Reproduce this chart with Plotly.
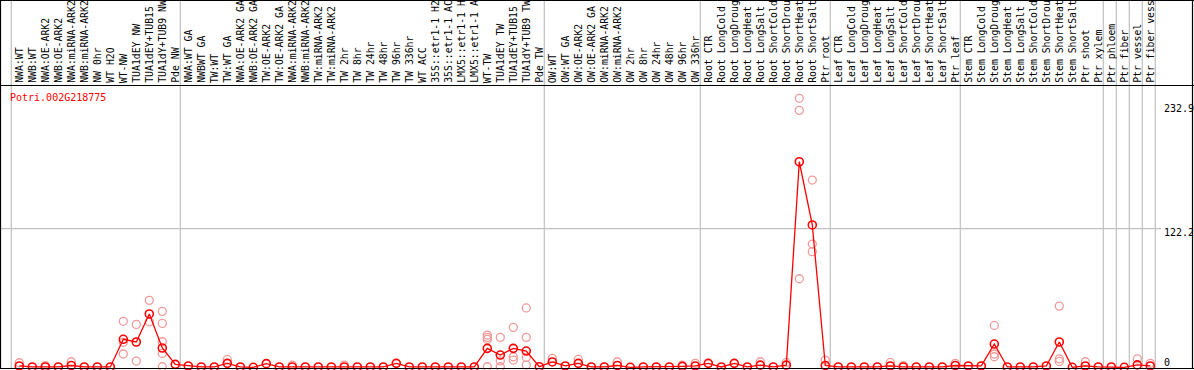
import plotly.graph_objects as go

# ---------------- data ----------------
categories = [
    "NWA:WT", "NWB:WT", "NWA:OE-ARK2", "NWB:OE-ARK2", "NWA:miRNA-ARK2", "NWB:miRNA-ARK2",
    "NW 0hr", "WT H2O", "WT-NW", "TUA1dEY NW", "TUA1dEY+TUB15", "TUA1dY+TUB9 NW", "Pde NW",
    "NWA:WT GA", "NWBWT GA", "TW:WT", "TW:WT GA", "NWA:OE-ARK2 GA", "NWB:OE-ARK2 GA",
    "TW:OE-ARK2", "TW:OE-ARK2 GA", "NWA:miRNA-ARK2", "NWB:miRNA-ARK2", "TW:miRNA-ARK2",
    "TW:miRNA-ARK2", "TW 2hr", "TW 8hr", "TW 24hr", "TW 48hr", "TW 96hr", "TW 336hr", "WT ACC",
    "35S::etr1-1 H2", "35S::etr1-1 AC", "LMX5::etr1-1 H", "LMX5::etr1-1 A", "WT-TW",
    "TUA1dEY TW", "TUA1dEY+TUB15", "TUA1dY+TUB9 TW", "Pde TW",
    "OW:WT", "OW:WT GA", "OW:OE-ARK2", "OW:OE-ARK2 GA", "OW:miRNA-ARK2", "OW:miRNA-ARK2",
    "OW 2hr", "OW 8hr", "OW 24hr", "OW 48hr", "OW 96hr", "OW 336hr",
    "Root CTR", "Root LongCold", "Root LongDroug", "Root LongHeat", "Root LongSalt",
    "Root ShortCold", "Root ShortDrou", "Root ShortHeat", "Root ShortSalt", "Ptr root",
    "Leaf CTR", "Leaf LongCold", "Leaf LongDroug", "Leaf LongHeat", "Leaf LongSalt",
    "Leaf ShortCold", "Leaf ShortDrou", "Leaf ShortHeat", "Leaf ShortSalt", "Ptr leaf",
    "Stem CTR", "Stem LongCold", "Stem LongDroug", "Stem LongHeat", "Stem LongSalt",
    "Stem ShortCold", "Stem ShortDrou", "Stem ShortHeat", "Stem ShortSalt", "Ptr shoot",
    "Ptr xylem", "Ptr phloem", "Ptr fiber", "Ptr vessel", "Ptr fiber vess",
]

mean_values = [
    1.2, 0.3, 0.3, 0.3, 1.6, 0.3, 0.3, 0.3, 24.7, 22.3, 47.0, 17.0, 2.6,
    1.2, 0.3, 0.3, 3.5, 0.3, 0.0, 3.2, 0.3, 0.3, 0.3, 0.3, 0.3, 0.3, 0.3, 0.3, 0.3,
    3.5, 0.3, 0.3, 0.3, 0.3, 0.3, 0.3, 16.7, 10.8, 16.7, 14.3, 0.5,
    4.7, 1.2, 3.5, 0.3, 0.3, 1.6, 0.0, 0.3, 0.3, 0.3, 0.8, 1.2,
    3.5, 0.3, 3.5, 0.3, 1.9, 0.3, 1.9, 181.1, 125.4, 1.6,
    0.3, 0.3, 0.3, 0.3, 1.2, 0.3, 0.3, 0.3, 0.3, 1.6,
    1.2, 1.2, 20.5, 0.3, 0.3, 0.3, 1.2, 22.3, 0.0, 1.2,
    0.3, 0.3, 0.0, 2.1, 1.2,
]

# individual replicate samples: category index and value
rep_index = [
    0, 2, 4, 8, 8, 8, 9, 9, 10, 10, 11, 11, 11, 11, 11, 16, 21, 25,
    36, 36, 36, 36, 37, 37, 37, 38, 38, 38, 39, 39, 39, 39,
    41, 43, 46, 51, 52, 57, 59, 60, 60, 60, 61, 61, 61, 62, 67, 68, 72,
    75, 75, 75, 80, 80, 80, 82, 86, 87,
]
rep_values = [
    4.0, 1.5, 4.9, 40.5, 22.0, 11.7, 37.8, 5.5, 59.0, 40.1, 49.3, 38.7, 22.5, 12.2, 0.5, 6.9, 2.0, 2.0,
    28.4, 26.4, 24.6, 0.5, 26.4, 5.6, 0.5, 35.2, 9.3, 6.4, 52.3, 26.4, 8.7, 2.0,
    7.9, 6.9, 4.9, 2.0, 3.5, 4.9, 4.3, 237.0, 226.4, 78.0, 165.0, 108.6, 101.9, 6.4, 4.3, 1.5, 3.5,
    36.9, 11.7, 9.3, 53.9, 7.5, 5.2, 4.9, 7.5, 3.5,
]

# last category index of each block (-1 = before first)
group_ends = [-1, 12, 40, 52, 62, 72, 83, 84, 85, 86, 87]

gene_id = "Potri.002G218775"
y_tick_values = [232.9, 122.2, 0]
y_tick_labels = ["232.9", "122.2", "0"]

# ---------------- layout geometry ----------------
W, H = 1194, 370
X0_PX, STEP_PX = 19.3, 13.0      # pixel of category 0 and spacing
Y0_PX, K_PX = 367.3, 1.135        # pixel of value 0 and pixels per unit
LABEL_BOTTOM_PX = 84
FONT = "DejaVu Sans Mono"

x_range = [-X0_PX / STEP_PX, (W - X0_PX) / STEP_PX]
y_range = [-(H - Y0_PX) / K_PX, Y0_PX / K_PX]

def py(px):
    return 1 - px / H

def pxx(px):
    return px / W

fig = go.Figure()

fig.add_trace(go.Scatter(
    x=rep_index, y=rep_values, mode="markers",
    marker=dict(symbol="circle-open", size=8, color="#F09A9A", line=dict(width=1.3, color="#F09A9A")),
    hoverinfo="skip", showlegend=False,
))
fig.add_trace(go.Scatter(
    x=list(range(len(categories))), y=mean_values, mode="lines+markers",
    line=dict(color="#FF0000", width=1.3),
    marker=dict(symbol="circle-open", size=8, color="#FF0000", line=dict(width=1.6, color="#FF0000")),
    text=categories, showlegend=False,
))

shapes = []
# group separators
for e in group_ends:
    xv = e + 5.0 / STEP_PX
    shapes.append(dict(type="line", xref="x", yref="paper", x0=xv, x1=xv, y0=py(369), y1=1,
                       line=dict(color="#C0C0C0", width=1.2), layer="below"))
# horizontal grid at middle tick
shapes.append(dict(type="line", xref="paper", yref="y", x0=0, x1=pxx(1161), y0=y_tick_values[1], y1=y_tick_values[1],
                   line=dict(color="#C0C0C0", width=1.2), layer="below"))
# black frame lines
for ypx in [0.5, 85.5, 368.5]:
    shapes.append(dict(type="line", xref="paper", yref="paper", x0=0, x1=1, y0=py(ypx), y1=py(ypx),
                       line=dict(color="#000000", width=1.2)))
for xpx in [0.5, 1192.5]:
    shapes.append(dict(type="line", xref="paper", yref="paper", x0=pxx(xpx), x1=pxx(xpx), y0=py(369), y1=1,
                       line=dict(color="#000000", width=1.2)))

annotations = []
for i, lab in enumerate(categories):
    annotations.append(dict(
        text=lab, x=i, xref="x", y=py(LABEL_BOTTOM_PX), yref="paper",
        xanchor="center", yanchor="bottom", textangle=-90, showarrow=False,
        font=dict(family=FONT, size=9.8, color="#000000"), xshift=0, borderpad=0,
    ))
annotations.append(dict(
    text=gene_id, x=pxx(8), xref="paper", y=py(97), yref="paper",
    xanchor="left", yanchor="middle", showarrow=False,
    font=dict(family=FONT, size=10, color="#FF0000"),
))
tick_px = [108, 232, 362]
for lab, tp in zip(y_tick_labels, tick_px):
    annotations.append(dict(
        text=lab, x=pxx(1162), xref="paper", y=py(tp), yref="paper",
        xanchor="left", yanchor="middle", showarrow=False,
        font=dict(family=FONT, size=10, color="#000000"),
    ))

fig.update_layout(
    width=W, height=H,
    margin=dict(l=0, r=0, t=0, b=0),
    paper_bgcolor="#FFFFFF", plot_bgcolor="#FFFFFF",
    xaxis=dict(range=x_range, visible=False, showgrid=False, zeroline=False),
    yaxis=dict(range=y_range, visible=False, showgrid=False, zeroline=False),
    shapes=shapes, annotations=annotations,
    showlegend=False,
)

fig.write_html(
    "out.html",
    config={"displayModeBar": False},
    post_script="document.body.style.margin='0';document.body.style.padding='0';document.body.style.overflow='hidden';",
)
